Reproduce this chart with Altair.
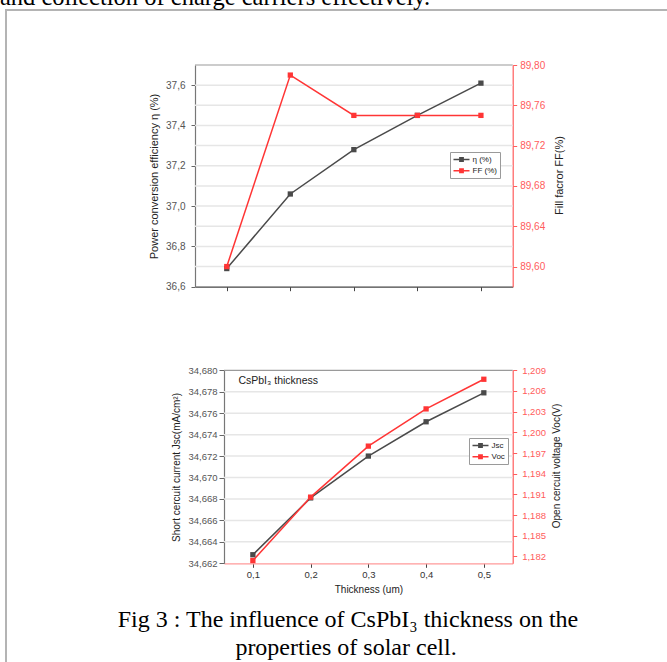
import altair as alt
import pandas as pd

# ---------------- data ----------------
thickness = [0.1, 0.2, 0.3, 0.4, 0.5]
eta = [36.69, 37.06, 37.28, 37.45, 37.61]
ff = [89.60, 89.79, 89.75, 89.75, 89.75]
jsc = [34.6628, 34.6681, 34.6720, 34.6752, 34.6779]
voc = [1.1814, 1.1906, 1.1980, 1.2034, 1.2077]

series_top = ["η (%)", "FF (%)"]
series_bottom = ["Jsc", "Voc"]

eta_ticks = [36.6, 36.8, 37.0, 37.2, 37.4, 37.6]
ff_ticks = [89.60, 89.64, 89.68, 89.72, 89.76, 89.80]
top_grid = [36.7, 36.8, 36.9, 37.0, 37.1, 37.2, 37.3, 37.4, 37.5, 37.6]
jsc_ticks = [34.662, 34.664, 34.666, 34.668, 34.670, 34.672, 34.674, 34.676, 34.678, 34.680]
voc_ticks = [1.182, 1.185, 1.188, 1.191, 1.194, 1.197, 1.200, 1.203, 1.206, 1.209]
bottom_grid = [34.664, 34.666, 34.668, 34.670, 34.672, 34.674, 34.676, 34.678]

prev_text = "and collection of charge carriers effectively."
caption_1 = "Fig 3 : The influence of CsPbI₃ thickness on the"
caption_2 = "properties of solar cell."
annot = "CsPbI₃ thickness"

# ---------------- styles ----------------
W, H = 667, 662
GRAY = "#4a4a4a"
RED = "#ff3535"
RED_AX = "#ff5c5c"
GRID = "#e6e6e6"
FRAME = "#9a9a9a"
FONT = "Liberation Sans"
SYM = "M-1,0H3M0.4,-0.45H1.6M0.4,-0.15H1.6M0.4,0.15H1.6M0.4,0.45H1.6"

top_df = pd.DataFrame({"t": thickness, "eta": eta, "ff": ff,
                       "s_eta": series_top[0], "s_ff": series_top[1]})
bot_df = pd.DataFrame({"t": thickness, "jsc": jsc, "voc": voc,
                       "s_jsc": series_bottom[0], "s_voc": series_bottom[1]})
one = pd.DataFrame({"k": [0]})

def comma(fmt):
    return f"replace(format(datum.value, '{fmt}'), '.', ',')"

# scales (pixel ranges place each panel inside the page)
xs_top = alt.Scale(domain=[0.05, 0.55], range=[195, 512.7], zero=False, nice=False)
ys_eta = alt.Scale(domain=[36.6, 37.7], range=[286.7, 65], zero=False, nice=False)
ys_ff = alt.Scale(domain=[89.58, 89.80], range=[286.7, 65], zero=False, nice=False)
xs_bot = alt.Scale(domain=[0.05, 0.55], range=[224, 512.7], zero=False, nice=False)
ys_jsc = alt.Scale(domain=[34.662, 34.680], range=[563.3, 370.3], zero=False, nice=False)
ys_voc = alt.Scale(domain=[1.181, 1.209], range=[563.3, 370.3], zero=False, nice=False)
cs_top = alt.Scale(domain=series_top, range=[GRAY, RED])
cs_bot = alt.Scale(domain=series_bottom, range=[GRAY, RED])

def legend(x, y):
    return alt.Legend(title=None, orient="none", legendX=x, legendY=y, direction="vertical",
                      symbolType=SYM, symbolSize=64, symbolStrokeWidth=1.5,
                      labelFont=FONT, labelFontSize=8, labelColor="#222", labelOffset=10,
                      padding=2.5, rowPadding=1.2, strokeColor="#9a9a9a", fillColor="white")

# ---------------- axes ----------------
ax_x_top = alt.Axis(orient="bottom", offset=286.7 - H, values=thickness, labels=False, title=None,
                    grid=False, tickSize=4, tickColor="#444", domainColor="#444", domainWidth=1.2)
ax_eta = alt.Axis(orient="left", offset=-195, values=eta_ticks, labelExpr=comma(".1f"), grid=False,
                  tickSize=4, tickColor="#666", domainColor="#777", domainWidth=1.2,
                  labelColor="#555", labelFontSize=10, labelPadding=6,
                  title="Power conversion efficiency η (%)", titleFontSize=11, titleColor="#222",
                  titleAngle=270, titleX=-41, titleY=176, titleBaseline="middle", titleAlign="center")
ax_ff = alt.Axis(orient="right", offset=512.7 - W, values=ff_ticks, labelExpr=comma(".2f"), grid=False,
                 tickSize=4, tickColor=RED_AX, domainColor=RED_AX, domainWidth=1.2,
                 labelColor=RED_AX, labelFontSize=10, labelPadding=3,
                 title="Fill facror FF(%)", titleFontSize=11, titleColor="#222",
                 titleAngle=270, titleX=46.3, titleY=175, titleBaseline="middle", titleAlign="center")
ax_x_bot = alt.Axis(orient="bottom", offset=563.3 - H, values=thickness, labelExpr=comma(".1f"),
                    grid=False, tickSize=4, tickColor="#444", domainColor="#ff9a9a", domainWidth=1.2,
                    labelColor="#333", labelFontSize=9.5, labelPadding=2,
                    title="Thickness (um)", titleFontSize=10, titleColor="#222",
                    titleX=368.4, titleY=26, titleBaseline="middle", titleAlign="center")
ax_jsc = alt.Axis(orient="left", offset=-224, values=jsc_ticks, labelExpr=comma(".3f"), grid=False,
                  tickSize=5, tickColor="#666", domainColor="#777", domainWidth=1.2,
                  labelColor="#555", labelFontSize=9.5, labelPadding=2,
                  title="Short cercuit current Jsc(mA/cm²)", titleFontSize=10, titleColor="#222",
                  titleAngle=270, titleX=-47.3, titleY=467, titleBaseline="middle", titleAlign="center")
ax_voc = alt.Axis(orient="right", offset=512.7 - W, values=voc_ticks, labelExpr=comma(".3f"), grid=False,
                  tickSize=4, tickColor=RED_AX, domainColor=RED_AX, domainWidth=1.2,
                  labelColor=RED_AX, labelFontSize=9.5, labelPadding=5,
                  title="Open cercuit voltage Voc(V)", titleFontSize=10, titleColor="#222",
                  titleAngle=270, titleX=44, titleY=465.5, titleBaseline="middle", titleAlign="center")

# ---------------- page decorations ----------------
border = alt.Chart(one).mark_rect(filled=False, stroke="#b4b4b4", strokeWidth=2).encode(
    x=alt.value(6), x2=alt.value(W + 40), y=alt.value(10), y2=alt.value(H + 40))
prev = alt.Chart(one).mark_text(align="left", baseline="alphabetic", font="Liberation Serif",
                                fontSize=24.5, color="#000").encode(
    x=alt.value(0), y=alt.value(4.5), text=alt.value(prev_text))
cap1 = alt.Chart(one).mark_text(align="center", baseline="alphabetic", font="Liberation Serif",
                                fontSize=24, color="#000").encode(
    x=alt.value(348), y=alt.value(627), text=alt.value(caption_1))
cap2 = alt.Chart(one).mark_text(align="center", baseline="alphabetic", font="Liberation Serif",
                                fontSize=24, color="#000").encode(
    x=alt.value(346), y=alt.value(655), text=alt.value(caption_2))

# ---------------- top panel ----------------
t_grid = alt.Chart(pd.DataFrame({"g": top_grid})).mark_rule(color=GRID, strokeWidth=1.5).encode(
    x=alt.XDatum(0.05, type="quantitative", scale=xs_top, axis=None), x2=alt.X2Datum(0.55),
    y=alt.Y("g:Q", scale=ys_eta, axis=None))
t_frame = alt.Chart(one).mark_rule(color=FRAME, strokeWidth=1.2).encode(
    x=alt.XDatum(0.05, type="quantitative", scale=xs_top, axis=None), x2=alt.X2Datum(0.55),
    y=alt.YDatum(37.7, type="quantitative", scale=ys_eta, axis=None))
eta_line = alt.Chart(top_df).mark_line(strokeWidth=1.5).encode(
    x=alt.X("t:Q", scale=xs_top, axis=ax_x_top),
    y=alt.Y("eta:Q", scale=ys_eta, axis=ax_eta),
    color=alt.Color("s_eta:N", scale=cs_top, legend=legend(450, 152)))
ff_line = alt.Chart(top_df).mark_line(strokeWidth=1.5).encode(
    x=alt.X("t:Q", scale=xs_top, axis=None),
    y=alt.Y("ff:Q", scale=ys_ff, axis=ax_ff),
    color=alt.Color("s_ff:N", scale=cs_top, legend=legend(450, 152)))
top_lines = alt.layer(eta_line, ff_line).resolve_scale(x="independent", y="independent")
eta_pts = alt.Chart(top_df).mark_square(size=28, color=GRAY, opacity=1).encode(
    x=alt.X("t:Q", scale=xs_top, axis=None), y=alt.Y("eta:Q", scale=ys_eta, axis=None))
ff_pts = alt.Chart(top_df).mark_square(size=28, color=RED, opacity=1).encode(
    x=alt.X("t:Q", scale=xs_top, axis=None), y=alt.Y("ff:Q", scale=ys_ff, axis=None))

# ---------------- bottom panel ----------------
b_grid = alt.Chart(pd.DataFrame({"g": bottom_grid})).mark_rule(color=GRID, strokeWidth=1.5).encode(
    x=alt.XDatum(0.05, type="quantitative", scale=xs_bot, axis=None), x2=alt.X2Datum(0.55),
    y=alt.Y("g:Q", scale=ys_jsc, axis=None))
b_frame = alt.Chart(one).mark_rule(color=FRAME, strokeWidth=1.2).encode(
    x=alt.XDatum(0.05, type="quantitative", scale=xs_bot, axis=None), x2=alt.X2Datum(0.55),
    y=alt.YDatum(34.680, type="quantitative", scale=ys_jsc, axis=None))
jsc_line = alt.Chart(bot_df).mark_line(strokeWidth=1.5).encode(
    x=alt.X("t:Q", scale=xs_bot, axis=ax_x_bot),
    y=alt.Y("jsc:Q", scale=ys_jsc, axis=ax_jsc),
    color=alt.Color("s_jsc:N", scale=cs_bot, legend=legend(469, 438)))
voc_line = alt.Chart(bot_df).mark_line(strokeWidth=1.5).encode(
    x=alt.X("t:Q", scale=xs_bot, axis=None),
    y=alt.Y("voc:Q", scale=ys_voc, axis=ax_voc),
    color=alt.Color("s_voc:N", scale=cs_bot, legend=legend(469, 438)))
bot_lines = alt.layer(jsc_line, voc_line).resolve_scale(x="independent", y="independent")
jsc_pts = alt.Chart(bot_df).mark_square(size=28, color=GRAY, opacity=1).encode(
    x=alt.X("t:Q", scale=xs_bot, axis=None), y=alt.Y("jsc:Q", scale=ys_jsc, axis=None))
voc_pts = alt.Chart(bot_df).mark_square(size=28, color=RED, opacity=1).encode(
    x=alt.X("t:Q", scale=xs_bot, axis=None), y=alt.Y("voc:Q", scale=ys_voc, axis=None))
label = alt.Chart(one).mark_text(align="left", baseline="middle", font=FONT, fontSize=10.5,
                                 color="#222").encode(
    x=alt.XDatum(0.075, type="quantitative", scale=xs_bot, axis=None),
    y=alt.YDatum(34.679, type="quantitative", scale=ys_jsc, axis=None),
    text=alt.value(annot))

chart = alt.layer(
    border, prev,
    t_grid, t_frame, top_lines, eta_pts, ff_pts,
    b_grid, b_frame, bot_lines, jsc_pts, voc_pts, label,
    cap1, cap2,
).resolve_scale(x="independent", y="independent", color="independent").properties(
    width=W, height=H, autosize=alt.AutoSizeParams(type="none"), padding=0, background="white"
).configure_view(stroke="transparent").configure_axis(
    labelFont=FONT, titleFont=FONT, titleFontWeight="normal"
)

chart.save("out.html", embed_options={"renderer": "svg", "actions": False})
